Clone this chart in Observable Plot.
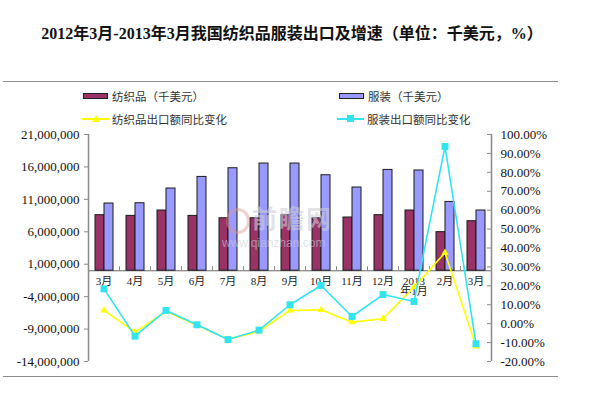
<!DOCTYPE html>
<html>
<head>
<meta charset="utf-8">
<script src="https://cdn.jsdelivr.net/npm/d3@7"></script>
<script src="https://cdn.jsdelivr.net/npm/@observablehq/plot@0.6"></script>
<style>
  body { margin: 0; background: #fff; }
  #wrap { position: relative; width: 600px; height: 399px; overflow: hidden; background: #fff;
          font-family: "Liberation Serif", "Noto Sans CJK SC", serif; }
  #wrap > svg, #wrap > figure { position: absolute; left: 0; top: 0; margin: 0; }
  .abs { position: absolute; white-space: nowrap; }
</style>
</head>
<body>
<div id="wrap"></div>
<script>
// ---------------- data ----------------
const monthKeys = ["2012-03","2012-04","2012-05","2012-06","2012-07","2012-08","2012-09","2012-10","2012-11","2012-12","2013-01","2013-02","2013-03"];
const monthLabels = ["3月","4月","5月","6月","7月","8月","9月","10月","11月","12月","2013\n年1月","2月","3月"];
const textile = [8560000, 8450000, 9280000, 8450000, 8090000, 8090000, 8560000, 8090000, 8200000, 8560000, 9280000, 5940000, 7630000];
const apparel = [10360000, 10400000, 12670000, 14460000, 15800000, 16520000, 16520000, 14720000, 12830000, 15540000, 15450000, 10600000, 9280000];
const textileYoY = [7.0, -4.5, 6.5, -0.8, -8.2, -4.1, 7.0, 7.3, 0.8, 2.6, 19.3, 37.5, -12.0];
const apparelYoY = [18.4, -6.6, 7.0, -0.6, -8.4, -3.4, 10.0, 20.2, 3.8, 15.4, 11.7, 93.7, -10.6];
const barNames = ["纺织品（千美元）", "服装（千美元）"];
const lineNames = ["纺织品出口额同比变化", "服装出口额同比变化"];
const leftTicks = [-14000000, -9000000, -4000000, 1000000, 6000000, 11000000, 16000000, 21000000];
const rightTicks = [-20, -10, 0, 10, 20, 30, 40, 50, 60, 70, 80, 90, 100];
const titleText = "2012年3月-2013年3月我国纺织品服装出口及增速（单位：千美元，%）";

// ---------------- styles ----------------
const C_TEX = "#993366", C_APP = "#9999ff", C_YEL = "#ffff00", C_CYA = "#33e3ef";
const AXIS = "#8a8a8a";
const FONT = "'Liberation Serif', 'Noto Sans CJK SC', serif";
const W = 600, H = 399;
const M = {top: 134, bottom: 38, left: 88, right: 109};

const wrap = document.getElementById("wrap");
function addDiv(css, html) {
  const d = document.createElement("div");
  d.className = "abs";
  d.style.cssText = css;
  if (html != null) d.textContent = html;
  wrap.appendChild(d);
  return d;
}

// frame lines, title
addDiv("left:3px;top:81px;width:555px;height:0;border-top:1.5px solid #8c8c8c;");
addDiv("left:3px;top:376px;width:555px;height:0;border-top:1.5px solid #8c8c8c;");
addDiv("left:0;top:24px;width:584px;text-align:center;font-size:16px;font-weight:bold;color:#111;line-height:20px;font-family:" + FONT, titleText);

// legend
const legendItems = [
  {type: "bar", name: barNames[0], color: C_TEX, x: 83, y: 96},
  {type: "bar", name: barNames[1], color: C_APP, x: 339, y: 96},
  {type: "line", name: lineNames[0], color: C_YEL, x: 82, y: 119, sym: "tri"},
  {type: "line", name: lineNames[1], color: C_CYA, x: 337, y: 119, sym: "sq"}
];
for (const it of legendItems) {
  if (it.type === "bar") {
    addDiv(`left:${it.x}px;top:${it.y - 3}px;width:23px;height:4px;background:${it.color};border:1px solid #222;`);
    addDiv(`left:${it.x + 29}px;top:${it.y - 9}px;font-size:11.5px;line-height:18px;color:#333;font-family:'Noto Sans CJK SC';`, it.name);
  } else {
    addDiv(`left:${it.x}px;top:${it.y - 1}px;width:27px;height:2px;background:${it.color};`);
    if (it.sym === "sq") addDiv(`left:${it.x + 10}px;top:${it.y - 4}px;width:7px;height:7px;background:${it.color};`);
    else addDiv(`left:${it.x + 10}px;top:${it.y - 4}px;width:0;height:0;border-left:4px solid transparent;border-right:4px solid transparent;border-bottom:7px solid ${it.color};`);
    addDiv(`left:${it.x + 30}px;top:${it.y - 9}px;font-size:11.5px;line-height:18px;color:#333;font-family:'Noto Sans CJK SC';`, it.name);
  }
}

// ---------------- plot 1: bars + left axis ----------------
const seriesKeys = ["tex", "app"];
const barRows = monthKeys.flatMap((m, i) => [
  {month: m, series: "tex", value: textile[i]},
  {month: m, series: "app", value: apparel[i]}
]);
const labelRows = monthKeys.map((k, i) => ({key: k, label: monthLabels[i]}));

const plot1 = Plot.plot({
  width: W, height: H,
  marginTop: M.top, marginBottom: M.bottom, marginLeft: M.left, marginRight: M.right,
  style: {background: "transparent", fontFamily: FONT, overflow: "visible"},
  fx: {domain: monthKeys, padding: 0, axis: null},
  x: {domain: seriesKeys, paddingInner: 0, paddingOuter: 0.67, axis: null},
  y: {domain: [leftTicks[0], leftTicks[leftTicks.length - 1]]},
  color: {domain: seriesKeys, range: [C_TEX, C_APP]},
  marks: [
    Plot.axisY({ticks: leftTicks, tickFormat: d => d.toLocaleString("en-US"), tickSize: 4, tickPadding: 5,
                stroke: AXIS, fill: "#111", fontSize: 13, label: null}),
    Plot.ruleY([0], {stroke: AXIS, strokeWidth: 1.3}),
    Plot.barY(barRows, {fx: "month", x: "series", y: "value", fill: "series", stroke: "#1a1a1a", strokeWidth: 1}),
    Plot.text(labelRows, {fx: "key", y: 0, text: "label", dy: 6, lineAnchor: "top", lineHeight: 1.0,
                          fontSize: 11, fill: "#222"})
  ]
});
wrap.appendChild(plot1);

// ---------------- plot 2: lines + right axis ----------------
const n = monthKeys.length;
const yMinL = leftTicks[0], yMaxL = leftTicks[leftTicks.length - 1];
const yMinR = rightTicks[0], yMaxR = rightTicks[rightTicks.length - 1];
const p0 = yMinR + (0 - yMinL) / (yMaxL - yMinL) * (yMaxR - yMinR); // left-axis zero on right scale
const boundaries = d3.range(1, n).map(i => i - 0.5);

const plot2 = Plot.plot({
  width: W, height: H,
  marginTop: M.top, marginBottom: M.bottom, marginLeft: M.left, marginRight: M.right,
  style: {background: "transparent", fontFamily: FONT, overflow: "visible"},
  x: {type: "linear", domain: [-0.5, n - 0.5], axis: null},
  y: {domain: [yMinR, yMaxR]},
  marks: [
    Plot.ruleX([-0.5, n - 0.5], {y1: yMinR, y2: yMaxR, stroke: AXIS, strokeWidth: 1.5}),
    Plot.ruleY(rightTicks, {x1: n - 0.5, x2: n - 0.5, insetLeft: -4, stroke: AXIS, strokeWidth: 1}),
    Plot.axisY({anchor: "right", ticks: rightTicks, tickSize: 0, tickPadding: 9,
                tickFormat: d => d.toFixed(2) + "%", fill: "#111", fontSize: 13, label: null}),
    Plot.ruleX(boundaries, {y1: p0, y2: p0, insetTop: -4, stroke: AXIS, strokeWidth: 1}),
    Plot.line(textileYoY, {x: (d, i) => i, y: d => d, stroke: C_YEL, strokeWidth: 1.6}),
    Plot.dot(textileYoY, {x: (d, i) => i, y: d => d, symbol: "triangle", r: 2.8, fill: C_YEL}),
    Plot.line(apparelYoY, {x: (d, i) => i, y: d => d, stroke: C_CYA, strokeWidth: 1.6}),
    Plot.dot(apparelYoY, {x: (d, i) => i, y: d => d, symbol: "square", r: 3.9, fill: C_CYA})
  ]
});
wrap.appendChild(plot2);

// watermark (overlaid, semi-transparent)
addDiv("left:226px;top:208px;width:18px;height:20px;border-radius:50%;border:3px solid rgba(220,150,140,0.45);");
addDiv("left:252px;top:204px;font-size:25px;line-height:27px;font-weight:bold;color:rgba(205,205,215,0.6);font-family:'Noto Sans CJK SC';letter-spacing:2px;", "前瞻网");
addDiv("left:222px;top:237px;font-size:12px;line-height:13px;color:rgba(205,205,215,0.6);font-family:Arial, 'Liberation Sans';", "www.qianzhan.com");
</script>
</body>
</html>
